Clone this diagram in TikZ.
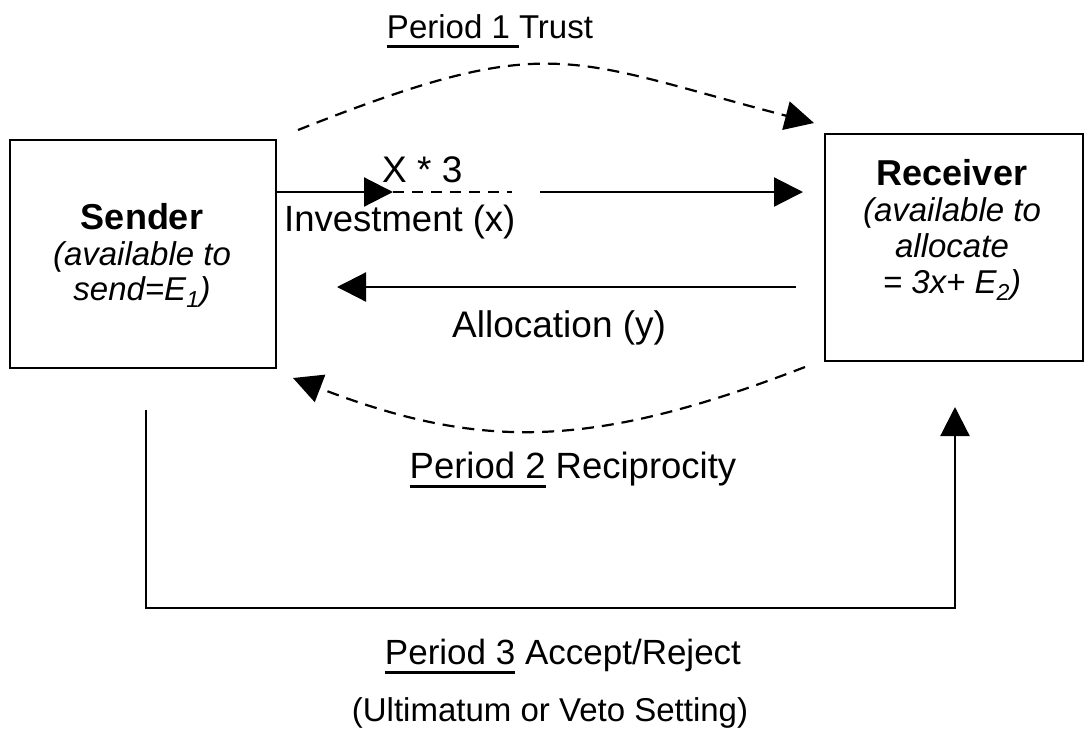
\documentclass[tikz,border=0pt]{standalone}
\usepackage{fontspec}
\setmainfont{Liberation Sans}
\usetikzlibrary{arrows.meta}

% underline drawn as a rule of fixed thickness below the text
\newcommand\undl[1]{\setbox0\hbox{#1}\rlap{\rule[-10pt]{\wd0}{3pt}}\box0\relax}
\newcommand\fs[1]{\fontsize{#1}{#1}\selectfont}

\begin{document}
\begin{tikzpicture}[x=1pt,y=-1pt,
  box/.style={draw,line width=2.6pt,inner sep=0pt},
  lbl/.style={inner sep=0pt},
  ttl/.style={font=\fs{36}\bfseries,inner sep=0pt,anchor=base},
  sub/.style={font=\fs{33}\itshape,inner sep=0pt,anchor=base},
  conn/.style={line width=2.2pt,-{Triangle[length=29pt,width=29pt]}},
  dconn/.style={conn,dash pattern=on 12pt off 8pt},
]
\useasboundingbox (0,0) rectangle (1085,732);

% players
\node[box,minimum width=266pt,minimum height=228pt] (sender) at (143,254) {};
\node[box,minimum width=258pt,minimum height=227pt] (receiver) at (954,247.5) {};

\node[ttl] (sname) at (142,229) {Sender};
\node[sub] (s1) at (142,265) {(available to};
\node[sub] (s2) at (142,300) {send=E\textsubscript{1})};

\node[ttl] (rname) at (952,185) {Receiver};
\node[sub] (r1) at (952,221) {(available to};
\node[sub] (r2) at (952,257) {allocate};
\node[sub] (r3) at (952,293) {= 3x+ E\textsubscript{2})};

% period 1: trust
\node[lbl,font=\fs{33},anchor=base] (p1) at (490,38) {\undl{Period 1 }Trust};
\coordinate (t1) at (298,130);
\coordinate (t2) at (814,123);
\draw[dconn] (t1) .. controls (550,30) and (565,58) .. (t2);

% investment, multiplied by three
\coordinate (inv1) at (393,192);
\coordinate (inv2) at (512,192);
\coordinate (inv3) at (540,192);
\coordinate (inv4) at (803,192);
\draw[conn] (sender.east |- inv1) -- (inv1);
\draw[line width=2.2pt,dash pattern=on 11pt off 8pt] (inv1) -- (inv2);
\draw[conn] (inv3) -- (inv4);
\node[lbl,font=\fs{37},anchor=base west] (times) at (382,182) {X * 3};
\node[lbl,font=\fs{36.5},anchor=base west] (inv) at (284,231) {Investment (x)};

% allocation back to the sender
\coordinate (al1) at (796,287);
\coordinate (al2) at (337,287);
\draw[conn] (al1) -- (al2);
\node[lbl,font=\fs{37},anchor=base west] (alloc) at (452,337) {Allocation (y)};

% period 2: reciprocity
\coordinate (b1) at (805,367);
\coordinate (b2) at (293,378);
\draw[dconn] (b1) .. controls (590,450) and (480,450) .. (b2);
\node[lbl,font=\fs{36.5},anchor=base] (p2) at (573,478) {\undl{Period 2} Reciprocity};

% period 3: accept or reject
\coordinate (c1) at (146,410);
\coordinate (c2) at (146,608);
\coordinate (c3) at (955,608);
\coordinate (c4) at (955,407);
\draw[conn] (c1) -- (c2) -- (c3) -- (c4);
\node[lbl,font=\fs{35},anchor=base] (p3) at (563,664) {\undl{Period 3} Accept/Reject};
\node[lbl,font=\fs{33},anchor=base] (p3b) at (550,721) {(Ultimatum or Veto Setting)};
\end{tikzpicture}
\end{document}
